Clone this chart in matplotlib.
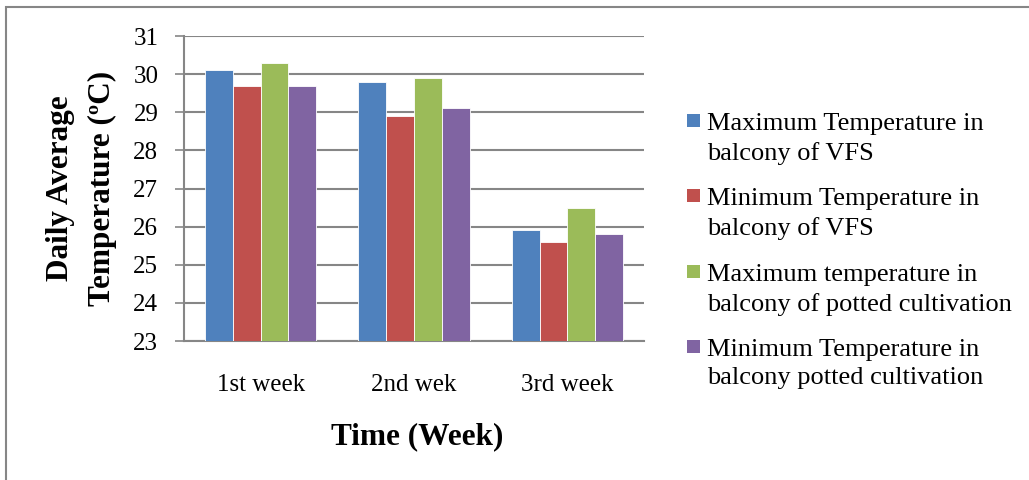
import numpy as np
import matplotlib
matplotlib.use('Agg')
import matplotlib.pyplot as plt
from matplotlib.patches import Rectangle

# chart data
weeks = ["1st week", "2nd wek", "3rd week"]
max_vfs = [30.1, 29.8, 25.9]
min_vfs = [29.7, 28.9, 25.6]
max_potted = [30.3, 29.9, 26.5]
min_potted = [29.7, 29.1, 25.8]
series_labels = [
    "Maximum Temperature in\nbalcony of VFS",
    "Minimum Temperature in\nbalcony of VFS",
    "Maximum temperature in\nbalcony of potted cultivation",
    "Minimum Temperature in\nbalcony potted cultivation",
]
colors = ["#4F81BD", "#C0504D", "#9BBB59", "#8064A2"]
y_ticks = [23, 24, 25, 26, 27, 28, 29, 30, 31]

plt.rcParams['font.family'] = ['Liberation Serif', 'DejaVu Serif']

W, H = 1029, 480
fig = plt.figure(figsize=(W / 100, H / 100), dpi=100)
ax = fig.add_axes([184 / W, 1 - 341 / H, (644 - 184) / W, (341 - 36) / H])

x = np.arange(len(weeks))
bw = 0.181
all_series = [max_vfs, min_vfs, max_potted, min_potted]
for i, vals in enumerate(all_series):
    offs = (i - 1.5) * bw
    ax.bar(x + offs, np.array(vals) - 23, bottom=23, width=bw, color=colors[i],
           edgecolor='white', linewidth=0.6, zorder=3)

ax.set_xlim(-0.5, 2.5)
ax.set_ylim(23, 31)
ax.set_yticks(y_ticks)
ax.set_xticks(x)
ax.set_xticklabels(weeks, fontsize=18)
ax.tick_params(axis='y', labelsize=18, length=6.5, width=1.2, color='#868686', pad=12)
ax.tick_params(axis='x', length=0, pad=24)
ax.grid(axis='y', color='#868686', linewidth=1.5, zorder=0)
for s in ['top', 'right']:
    ax.spines[s].set_visible(False)
for s in ['left', 'bottom']:
    ax.spines[s].set_color('#868686')
    ax.spines[s].set_linewidth(1.5)

ax.set_ylabel("Daily Average\nTemperature (\u00baC)", fontsize=22.5, fontweight='bold',
              labelpad=12, linespacing=1.55)
fig.text(417 / W, 1 - 437 / H, "Time (Week)", fontsize=22.5, fontweight='bold',
         ha='center', va='center')

# legend drawn by hand so the swatch sits at the first line
entry_top = [114, 189, 265, 340]
for i, lab in enumerate(series_labels):
    yy = entry_top[i]
    fig.patches.append(Rectangle((687 / W, 1 - (yy + 13) / H), 13 / W, 13 / H,
                                 transform=fig.transFigure, facecolor=colors[i],
                                 edgecolor='none'))
    fig.text(707 / W, 1 - (yy - 1) / H, lab, fontsize=19, ha='left', va='top',
             linespacing=1.38)

# outer chart border (only top/left edges visible in frame)
fig.patches.append(Rectangle((6 / W, -0.05), 1.1, 1 - 7 / H + 0.05,
                             transform=fig.transFigure, facecolor='none',
                             edgecolor='#868686', linewidth=1.5))

fig.savefig('out.png', dpi=100)
